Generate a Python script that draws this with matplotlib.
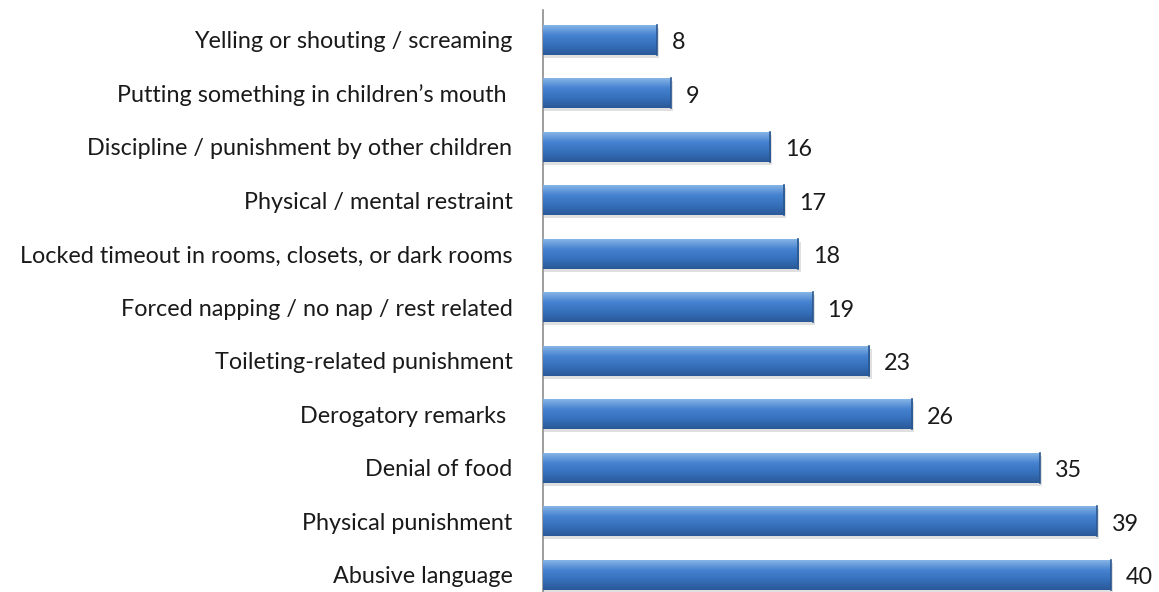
import matplotlib.pyplot as plt
import numpy as np
from matplotlib.colors import LinearSegmentedColormap

categories = ["Abusive language", "Physical punishment", "Denial of food",
              "Derogatory remarks ", "Toileting-related punishment",
              "Forced napping / no nap / rest related",
              "Locked timeout in rooms, closets, or dark rooms",
              "Physical / mental restraint",
              "Discipline / punishment by other children",
              "Putting something in children\u2019s mouth ",
              "Yelling or shouting / screaming"]
values = [40, 39, 35, 26, 23, 19, 18, 17, 16, 9, 8]

plt.rcParams['font.family'] = ['Lato', 'DejaVu Sans']

fig = plt.figure(figsize=(11.59, 5.92), dpi=100)
ax = fig.add_axes([543 / 1159, 0.0, 1 - 543 / 1159, 582 / 592])

y = np.arange(len(values))
h = 0.56
bars = ax.barh(y, values, height=h, color='none', edgecolor='none', zorder=2)

# shadow under each bar
for yi, v in zip(y, values):
    ax.barh(yi - 0.05, v + 0.15, height=h, left=0.0, color='#000000', alpha=0.12,
            edgecolor='none', zorder=1)

grad = LinearSegmentedColormap.from_list('bevel', ['#2a5897', '#3670bb', '#4582d0', '#86b4e6'])
g = np.linspace(0, 1, 100).reshape(-1, 1)
for b in bars:
    x0, y0 = b.get_x(), b.get_y()
    w, hh = b.get_width(), b.get_height()
    im = ax.imshow(g, cmap=grad, aspect='auto', origin='lower',
                   extent=[x0, x0 + w, y0, y0 + hh], zorder=3)
    im.set_clip_path(b)
    ax.plot([x0 + w, x0 + w], [y0, y0 + hh], color='#2a568f', lw=1.2, zorder=4)

for yi, v in zip(y, values):
    ax.text(v + 1.05, yi - 0.05, str(v), va='center', ha='left', fontsize=16.8, color='#1a1a1a')

ax.set_xlim(0, 43.4)
ax.set_ylim(-0.32, 10.56)
ax.set_yticks(y)
ax.set_yticklabels(categories, fontsize=16.8, color='#1a1a1a')
ax.tick_params(axis='y', length=0, pad=22)
ax.set_xticks([])
for s in ['top', 'right', 'bottom']:
    ax.spines[s].set_visible(False)
ax.spines['left'].set_color('#8c8c8c')
ax.spines['left'].set_linewidth(1.2)

fig.savefig('out.png', dpi=100)
